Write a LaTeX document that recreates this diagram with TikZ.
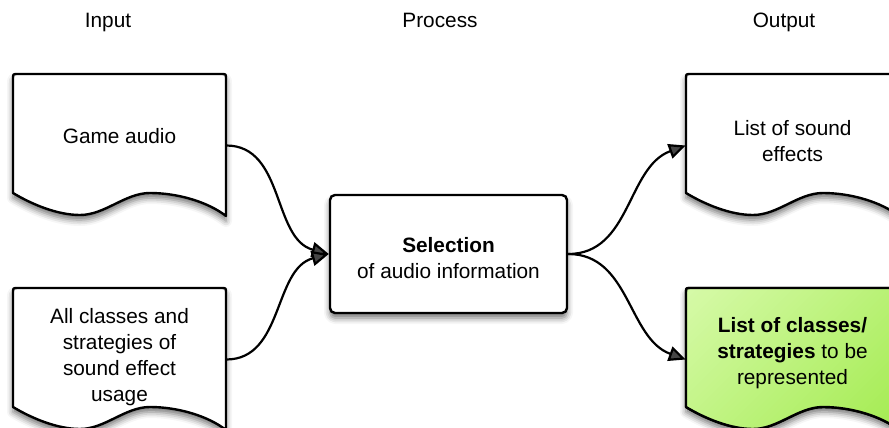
\documentclass[tikz,border=0pt]{standalone}
\usepackage{fontspec}
\setmainfont{Liberation Sans}
\usetikzlibrary{arrows.meta,shadows.blur}
\definecolor{gA}{RGB}{214,250,168}
\definecolor{gB}{RGB}{163,235,80}
\newcommand\docpath[2]{%
  ({#1},{#2+119}) -- ({#1},{#2+5}) .. controls ({#1},{#2}) .. ({#1+5},{#2})
  -- ({#1+208},{#2}) .. controls ({#1+213},{#2}) .. ({#1+213},{#2+5})
  -- ({#1+213},{#2+142})
  .. controls ({#1+195},{#2+128}) and ({#1+165},{#2+119}) .. ({#1+137},{#2+119})
  .. controls ({#1+112},{#2+119}) and ({#1+92},{#2+141}) .. ({#1+67},{#2+141})
  .. controls ({#1+45},{#2+141}) and ({#1+20},{#2+131}) .. ({#1},{#2+119}) -- cycle}
\tikzset{
  shad/.style={blur shadow={shadow xshift=0pt,shadow yshift=-5pt,shadow blur radius=6pt,shadow opacity=55}},
  docline/.style={line width=2.4pt, line join=round, shad},
  docedge/.style={line width=2.4pt, line join=round},
  docbox/.style={rectangle, minimum width=213pt, minimum height=142pt, inner sep=0pt},
  txt/.style={align=center, inner sep=0pt, font=\fontsize{20.8}{26}\selectfont},
  head/.style={inner sep=0pt, text height=15.2pt, text depth=4.4pt, font=\fontsize{20.8}{26}\selectfont},
  procbox/.style={draw, line width=2.4pt, rounded corners=5pt, fill=white, minimum width=237pt, minimum height=118pt, inner sep=0pt, shad},
  conn/.style={line width=2.2pt, -{Triangle[length=17pt,width=15pt]}}
}
\begin{document}
\begin{tikzpicture}[x=1pt,y=-1pt]
\useasboundingbox (0,0) rectangle (889,428);
% headers
\node[head] (hin) at (108,22.6) {Input};
\node[head] (hpr) at (440,22.6) {Process};
\node[head] (hout) at (784,22.6) {Output};
% document shapes
\path[docline, draw, fill=white] \docpath{13}{74};
\path[docline, draw, fill=white] \docpath{13}{288};
\path[docline, draw, fill=white] \docpath{686}{74};
\path[docline, draw, fill=gA] \docpath{686}{288};
\begin{scope}
  \clip \docpath{686}{288};
  \foreach \i in {0,...,59} {
    \pgfmathsetmacro\p{100*\i/59}
    \fill[gB!\p!gA] ({486+6*\i},{488}) -- ({686+6*\i},{288}) -- ({692.6+6*\i},{288}) -- ({492.6+6*\i},{488}) -- cycle;
  }
\end{scope}
\path[docedge, draw] \docpath{686}{288};
% anchor nodes for the documents
\node[docbox] (ga) at (119.5,145.5) {};
\node[docbox] (cl) at (119.5,359.5) {};
\node[docbox] (se) at (792.5,145.5) {};
\node[docbox] (cs) at (792.5,359.5) {};
% texts
\node[txt] (gat) at (119.5,136) {Game audio};
\node[txt] (clt) at (119.5,357) {All classes and\\strategies of\\sound effect\\usage};
\node[txt] (set) at (792.5,141) {List of sound\\effects};
\node[txt] (cst) at (792.5,353.5) {\textbf{List of classes/}\\\textbf{strategies} to be\\represented};
% process
\node[procbox] (sel) at (448.5,254) {};
\node[txt] (selt) at (448.5,258.5) {\textbf{Selection}\\of audio information};
% connectors
\draw[conn] (ga.east) to[out=0, in=165] (sel.west);
\draw[conn] (cl.east) to[out=0, in=195] (sel.west);
\draw[conn] (sel.east) to[out=0, in=200] (se.west);
\draw[conn] (sel.east) to[out=0, in=160] (cs.west);
\end{tikzpicture}
\end{document}
